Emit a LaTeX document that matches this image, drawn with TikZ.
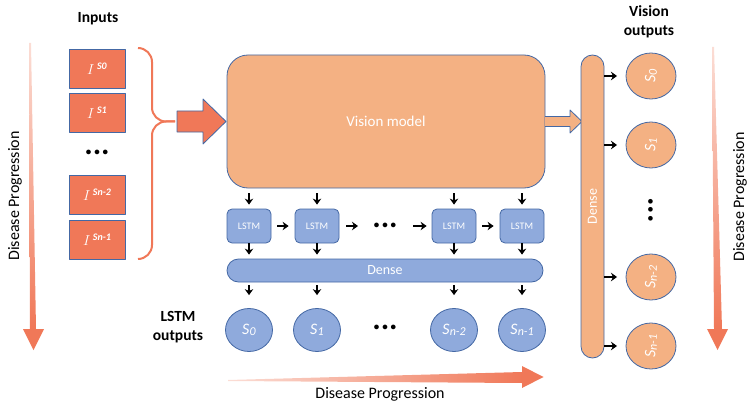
\documentclass[tikz,border=0pt]{standalone}
\usepackage{fontspec}
\setmainfont{Carlito}
\usetikzlibrary{arrows.meta,shapes.geometric}

\definecolor{coral}{RGB}{240,120,88}
\definecolor{peach}{RGB}{244,177,131}
\definecolor{lstmblue}{RGB}{143,170,220}
\definecolor{edge}{RGB}{68,104,164}

\newcommand{\stag}[1]{\textit{S\kern0.3pt\raisebox{-1.5pt}{\fontsize{12}{12}\selectfont#1}}}
\newcommand{\itag}[1]{$I$\,\raisebox{5pt}{\fontsize{10}{10}\selectfont\bfseries\itshape S#1}}
\newcommand{\threedots}{•\kern3pt•\kern3pt•}

\tikzset{
  inbox/.style={draw=edge, fill=coral, line width=0.8pt, minimum width=56pt, minimum height=39pt,
    inner sep=0pt, text=white, font=\fontsize{15}{15}\selectfont},
  block/.style={draw=edge, line width=0.8pt, text=white, inner sep=0pt},
  lstm/.style={block, fill=lstmblue, rounded corners=5pt, minimum width=44pt, minimum height=34pt,
    font=\fontsize{10}{12}\selectfont},
  lout/.style={block, ellipse, fill=lstmblue, minimum width=47pt, minimum height=43pt,
    font=\fontsize{16}{16}\selectfont},
  vout/.style={lout, fill=peach, minimum width=50pt, minimum height=46pt},
  title/.style={font=\bfseries\fontsize{15.5}{19}\selectfont, align=center},
  prog/.style={font=\fontsize{16}{16}\selectfont},
  dots/.style={font=\bfseries\fontsize{11}{11}\selectfont},
  arr/.style={-{Stealth[length=6pt,width=8.5pt]}, line width=1.8pt},
}

\begin{document}
\begin{tikzpicture}[x=1pt, y=1pt, line join=round]
  \useasboundingbox (0,0) rectangle (754,405);

  \shade[top color=coral!25, bottom color=coral] (29,362) -- (31,362) -- (36,76) -- (30,76) -- cycle;
  \fill[coral] (23,76) -- (44,76) -- (33.5,55) -- cycle;
  \node[prog, rotate=90] (leftprog) at (15,209) {Disease Progression};

  \node[title] (intitle) at (98,386) {Inputs};
  \node[inbox] (in0) at (97,336.5) {\itag{0}};
  \node[inbox] (in1) at (97,292.5) {\itag{1}};
  \node[dots] (indots) at (97,252) {\threedots};
  \node[inbox] (in2) at (97,210.5) {\itag{n-2}};
  \node[inbox] (in3) at (97,165.5) {\itag{n-1}};

  \draw[coral, line width=2pt, rounded corners=14pt] (138,357) -| (152,283.5) -- (175,283.5);
  \draw[coral, line width=2pt, rounded corners=14pt] (138,146) -| (152,283.5) -- (175,283.5);
  \draw[block, fill=coral] (177,273) -- (203,273) -- (203,261) -- (226,283.5) -- (203,306)
    -- (203,294) -- (177,294) -- cycle;

  \node[block, fill=peach, rounded corners=21pt, minimum width=318pt, minimum height=133pt,
    font=\fontsize{15}{18}\selectfont] (vision) at (386,283.5) {Vision model};
  \draw[block, fill=peach] (545,278.5) -- (570,278.5) -- (570,272) -- (582,283.5) -- (570,295)
    -- (570,288.5) -- (545,288.5);

  % vision head
  \node[block, fill=peach, rounded corners=11.5pt, minimum width=23pt, minimum height=303pt,
    font=\fontsize{14}{14}\selectfont] (vdense) at (592.5,198.5) {\rotatebox{90}{Dense}};
  \node[title] (vtitle) at (649,383) {Vision\\outputs};
  \node[vout] (vo0) at (651,329) {\rotatebox{90}{\stag{0}}};
  \node[vout] (vo1) at (651,260) {\rotatebox{90}{\stag{1}}};
  \node[dots, rotate=90] (vodots) at (651,195) {\threedots};
  \node[vout] (vo2) at (651,128) {\rotatebox{90}{\stag{n-2}}};
  \node[vout] (vo3) at (651,59) {\rotatebox{90}{\stag{n-1}}};
  \foreach \i in {0,...,3}
    \draw[arr] (vdense.east |- vo\i) -- ([xshift=-34pt]vo\i.center);

  \shade[top color=coral!25, bottom color=coral] (712,358) -- (714,358) -- (722,76) -- (714,76) -- cycle;
  \fill[coral] (707,76) -- (728,76) -- (717.5,55) -- cycle;
  \node[prog, rotate=90] (rightprog) at (740,208) {Disease Progression};

  % lstm head
  \node[block, fill=lstmblue, rounded corners=11.5pt, minimum width=316pt, minimum height=23pt,
    font=\fontsize{14}{14}\selectfont] (hdense) at (385,134.5) {Dense};
  \foreach \i/\x/\s in {0/249/0, 1/317/1, 2/454/n-2, 3/522/n-1} {
    \node[lstm] (l\i) at (\x,179) {LSTM};
    \node[lout] (o\i) at (\x,75) {\stag{\s}};
    \draw[arr] ([yshift=-5pt]vision.south -| l\i) -- ([yshift=4pt]l\i.north);
    \draw[arr] (l\i.south) -- ([yshift=4pt]hdense.north -| l\i);
    \draw[arr] ([yshift=-3pt]hdense.south -| o\i) -- ([yshift=13pt]o\i.north);
  }
  \node[dots] (ldots) at (385,179) {\threedots};
  \node[dots] (odots) at (385,77) {\threedots};
  \draw[arr] ([xshift=6pt]l0.east) -- ([xshift=-6pt]l1.west);
  \draw[arr] ([xshift=7pt]l1.east) -- ([xshift=-27pt]ldots.center);
  \draw[arr] ([xshift=28pt]ldots.center) -- ([xshift=-5pt]l2.west);
  \draw[arr] ([xshift=6pt]l2.east) -- ([xshift=-6pt]l3.west);
  \node[title] (ltitle) at (178,78) {LSTM\\outputs};

  \shade[left color=coral!25, right color=coral] (228,24) -- (522,22) -- (522,33) -- (228,25) -- cycle;
  \fill[coral] (522,39) -- (543.5,28) -- (522,17) -- cycle;
  \node[prog] (bottomprog) at (380,11) {Disease Progression};
\end{tikzpicture}
\end{document}
